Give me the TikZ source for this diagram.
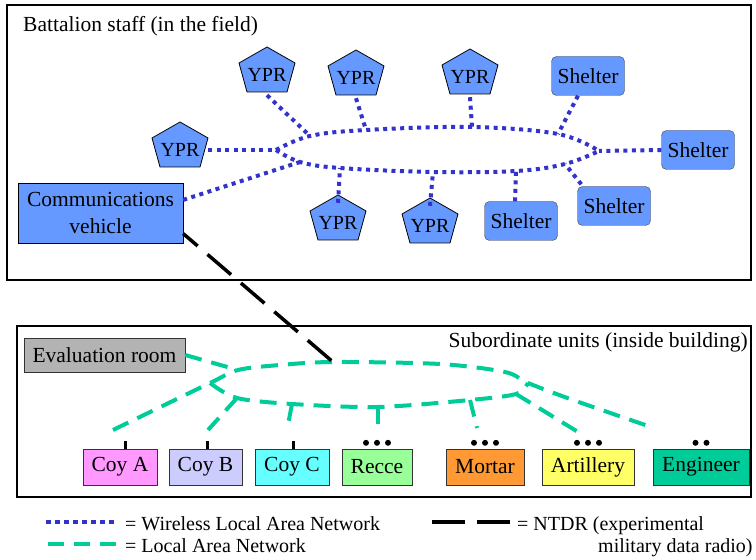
\documentclass[tikz,border=0pt]{standalone}
\usepackage{fontspec}
\setmainfont{Liberation Serif}
\usetikzlibrary{calc}

\definecolor{unitblue}{HTML}{6699FF}
\definecolor{wlanblue}{HTML}{3333CC}
\definecolor{langreen}{HTML}{00CC99}
\definecolor{evalgray}{HTML}{B3B3B3}
\definecolor{coyapink}{HTML}{FF99FF}
\definecolor{coyblilac}{HTML}{CCCCFF}
\definecolor{coyccyan}{HTML}{66FFFF}
\definecolor{reccegreen}{HTML}{99FF99}
\definecolor{mortarorange}{HTML}{FF9933}
\definecolor{artyellow}{HTML}{FFFF66}

\tikzset{
  area/.style={draw=black,line width=2.5bp},
  wlan/.style={draw=wlanblue,line width=4bp,dash pattern=on 4bp off 4.5bp},
  lan/.style={draw=langreen,line width=4bp,dash pattern=on 17bp off 10bp},
  ntdr/.style={draw=black,line width=3.5bp,dash pattern=on 31bp off 13bp},
  yprtext/.style={minimum width=56bp,minimum height=40bp,inner sep=0pt,font=\fontsize{20bp}{24bp}\selectfont},
  shelter/.style={draw=black!75,fill=unitblue,rounded corners=5bp,minimum width=73bp,minimum height=39bp,inner sep=0pt},
  vehicle/.style={draw=black,fill=unitblue,minimum width=165bp,minimum height=60bp,align=center,inner sep=0pt},
  unit/.style={draw=black!80,minimum height=36bp,inner sep=0pt},
  legend/.style={anchor=base west,inner sep=0pt,font=\fontsize{20bp}{24bp}\selectfont},
  tick/.style={line width=3bp},
}

\begin{document}
\begin{tikzpicture}[x=1bp,y=-1bp,font=\fontsize{21.5bp}{27bp}\selectfont]
\useasboundingbox (0,0) rectangle (756,560);

% the two areas
\draw[area] (7,5) rectangle (751,280);
\draw[area] (17,326) rectangle (751,497);
\node[anchor=base west,inner sep=0pt] (field) at (23,32) {Battalion staff (in the field)};
\node[anchor=base east,inner sep=0pt] (building) at (748,347) {Subordinate units (inside building)};

% battalion staff
\foreach \n/\x/\y in {ypra/267/72, yprb/356/75, yprc/470/74, yprd/180/147, ypre/338/220, yprf/430/223}{
  \filldraw[fill=unitblue,draw=black,line width=0.8bp]
    (\x,\y-25) -- (\x+28,\y-9) -- (\x+20,\y+20) -- (\x-20,\y+20) -- (\x-28,\y-9) -- cycle;
  \node[yprtext] (\n) at (\x,\y+3) {YPR};
}
\node[shelter] (shelta) at (588,76) {Shelter};
\node[shelter] (sheltb) at (698,150) {Shelter};
\node[shelter] (sheltc) at (521,221) {Shelter};
\node[shelter] (sheltd) at (614,206) {Shelter};
\node[vehicle] (comm) at (100.5,213) {Communications\\vehicle};

% wireless ring
\coordinate (wl) at (276,150);
\coordinate (wr) at (599,151);
\coordinate (w1) at (310,136);
\coordinate (w2) at (366,130);
\coordinate (w3) at (472,127);
\coordinate (w4) at (558,134);
\coordinate (w7) at (300,162);
\coordinate (w8) at (340,168);
\coordinate (w9) at (433,172);
\coordinate (w10) at (516,171);
\coordinate (w11) at (565,164);
\draw[wlan] plot[smooth,tension=0.6] coordinates {(wl) (w1) (w2) (w3) (w4) (wr)};
\draw[wlan] plot[smooth,tension=0.6] coordinates {(wl) (w7) (w8) (w9) (w10) (w11) (wr)};

\draw[wlan] (ypra.south) -- (w1);
\draw[wlan] (yprb.south) -- (w2);
\draw[wlan] (yprc.south) -- (w3);
\draw[wlan] (shelta.south) ++(-10,0) -- (w4);
\draw[wlan] (yprd.east) -- (wl);
\draw[wlan] (sheltb.west) -- (wr);
\draw[wlan] (comm.9) -- (w7);
\draw[wlan] (ypre.north) -- (w8);
\draw[wlan] (yprf.north) -- (w9);
\draw[wlan] (sheltc.north) ++(-6,0) -- (w10);
\draw[wlan] (sheltd.north west) ++(4,-2) -- (w11);

% subordinate units
\node[draw=black!80,fill=evalgray,minimum width=161bp,minimum height=34bp,inner sep=0pt] (eval) at (104.5,355) {Evaluation room};
\node[unit,fill=coyapink,minimum width=74bp] (coya) at (120,467) {Coy A};
\node[unit,fill=coyblilac,minimum width=73bp] (coyb) at (205.5,467) {Coy B};
\node[unit,fill=coyccyan,minimum width=74bp] (coyc) at (292,467) {Coy C};
\node[unit,fill=reccegreen,minimum width=70bp] (recce) at (377,467) {Recce};
\node[unit,fill=mortarorange,minimum width=78bp] (mortar) at (485,467) {Mortar};
\node[unit,fill=artyellow,minimum width=92bp] (arty) at (588,467) {Artillery};
\node[unit,fill=langreen,minimum width=96bp] (engineer) at (701,467) {Engineer};

% unit size marks
\draw[tick] ([xshift=5bp]coya.north) -- ++(0,-8);
\draw[tick] ([xshift=2bp]coyb.north) -- ++(0,-8);
\draw[tick] ([xshift=1bp]coyc.north) -- ++(0,-8);
\foreach \u/\k in {recce/3, mortar/3, arty/3, engineer/2}
  \foreach \i in {1,...,\k}
    \fill ($(\u.north)+({(\i-(\k+1)/2)*11},-6)$) circle (3bp);

% wired network
\coordinate (ga) at (210,383);
\coordinate (gtop) at (238,370);
\coordinate (gn) at (333,362);
\coordinate (gr2) at (528,383);
\coordinate (gb) at (237,398);
\coordinate (gc) at (292,404);
\coordinate (grec) at (378,407);
\coordinate (gm) at (470,400);
\coordinate (gt) at (516,394);
\coordinate (enda) at (113,430);
\coordinate (endb) at (208,430);
\coordinate (endc) at (287,430);
\coordinate (endr) at (378,430);
\coordinate (endm) at (477,428);
\coordinate (endt) at (583,435);
\coordinate (ende) at (654,428);
\draw[lan] plot[smooth,tension=0.5] coordinates {(enda) (ga) (gtop) (280,365) (gn) (440,364) (505,372) (gr2) (573,400) (ende)};
\draw[lan] plot[smooth,tension=0.5] coordinates {(ga) (gb) (gc) (grec) (gm) (gt) (gr2)};
\draw[lan] (eval.east) -- (gtop);
\draw[lan] (gb) -- (endb);
\draw[lan] (gc) -- (endc);
\draw[lan] (grec) -- (endr);
\draw[lan] (gm) -- (endm);
\draw[lan] (gt) -- (endt);

% radio link
\draw[ntdr,dash phase=12bp] (comm.-14) -- (gn);

% legend
\coordinate (la) at (46,522);
\coordinate (lb) at (116,522);
\coordinate (lc) at (48,544);
\coordinate (ld) at (116,544);
\coordinate (le) at (432,522);
\coordinate (lf) at (510,522);
\draw[wlan,dash pattern=on 5bp off 4bp] (la) -- (lb);
\draw[lan,dash pattern=on 16bp off 10bp] (lc) -- (ld);
\draw[ntdr,dash pattern=on 33bp off 12bp] (le) -- (lf);
\node[legend] (wlantext) at (125,530) {= Wireless Local Area Network};
\node[legend] (lantext) at (125,552) {= Local Area Network};
\node[legend] (ntdrtext) at (517,530) {= NTDR (experimental};
\node[legend] (ntdrtext2) at (598,552) {military data radio)};
\end{tikzpicture}
\end{document}
